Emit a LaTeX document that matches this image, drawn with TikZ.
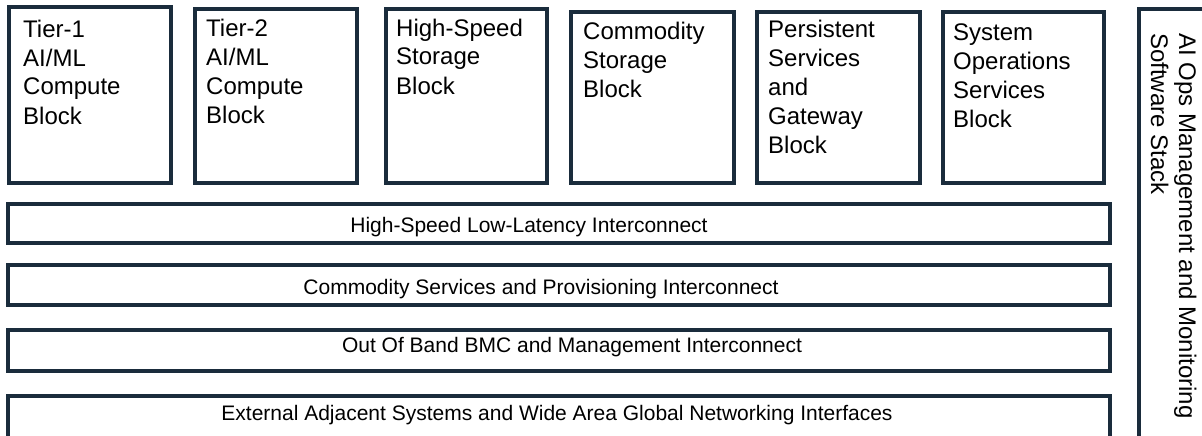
\documentclass[tikz,border=0pt]{standalone}
\usepackage{fontspec}
\setmainfont{Liberation Sans}
\definecolor{navy}{RGB}{26,44,60}
\begin{document}
\begin{tikzpicture}[x=1pt,y=-1pt,
  blk/.style={draw=navy, line width=4pt, fill=white, rectangle},
  btxt/.style={inner sep=0pt, anchor=base west, align=left, font=\fontsize{24}{29}\selectfont},
  bartxt/.style={inner sep=0pt, anchor=base, font=\fontsize{21}{25}\selectfont},
  vtxt/.style={inner sep=0pt, anchor=base west, align=left, rotate=-90, font=\fontsize{24}{28}\selectfont}]
\useasboundingbox (0,0) rectangle (1202,436);
\clip (0,0) rectangle (1202,436);
% top blocks (text anchors are at the baseline of the last line)
\draw[blk] (9,7) rectangle (171,183);
\coordinate (b1) at (23,124);
\node[btxt] (t1) at (b1) {Tier-1\\AI/ML\\Compute\\Block};
\draw[blk] (195,9) rectangle (357,183);
\coordinate (b2) at (206,123);
\node[btxt] (t2) at (b2) {Tier-2\\AI/ML\\Compute\\Block};
\draw[blk] (386,9) rectangle (547,183);
\coordinate (b3) at (396,94);
\node[btxt] (t3) at (b3) {High-Speed\\Storage\\Block};
\draw[blk] (571,12) rectangle (734,183);
\coordinate (b4) at (583,97);
\node[btxt] (t4) at (b4) {Commodity\\Storage\\Block};
\draw[blk] (757,12) rectangle (920,183);
\coordinate (b5) at (768,153);
\node[btxt] (t5) at (b5) {Persistent\\Services\\and\\Gateway\\Block};
\draw[blk] (943,12) rectangle (1104,183);
\coordinate (b6) at (953,127);
\node[btxt] (t6) at (b6) {System\\Operations\\Services\\Block};
% bars
\draw[blk] (8,204) rectangle (1110,243);
\coordinate (c1) at (529,232);
\node[bartxt] (l1) at (c1) {High-Speed Low-Latency Interconnect};
\draw[blk] (8,265) rectangle (1110,305);
\coordinate (c2) at (541,294);
\node[bartxt] (l2) at (c2) {Commodity Services and Provisioning Interconnect};
\draw[blk] (8,330) rectangle (1110,371);
\coordinate (c3) at (572,352);
\node[bartxt] (l3) at (c3) {Out Of Band BMC and Management Interconnect};
\draw[blk] (8,396) rectangle (1110,460);
\coordinate (c4) at (557,420);
\node[bartxt] (l4) at (c4) {External Adjacent Systems and Wide Area Global Networking Interfaces};
% right stack
\draw[blk] (1139,9) rectangle (1240,470);
\coordinate (v1) at (1151,33);
\node[vtxt] (vt) at (v1) {AI Ops Management and Monitoring\\Software Stack};
\end{tikzpicture}
\end{document}
